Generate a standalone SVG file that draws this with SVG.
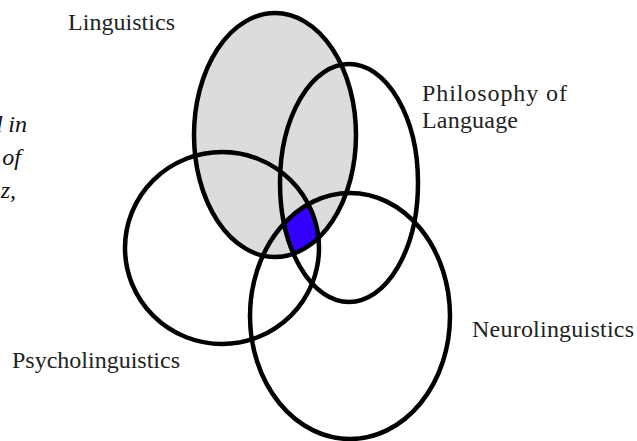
<svg xmlns="http://www.w3.org/2000/svg" width="637" height="441" viewBox="0 0 637 441">
<style>
.ring{fill:none;stroke:#000;stroke-width:4.5}
.lbl{font-family:"Liberation Serif","Times New Roman",serif;font-size:24px;fill:#222}
.cut{font-family:"Liberation Serif","Times New Roman",serif;font-style:italic;font-size:24px;fill:#111}
</style>
<defs>
<clipPath id="cL"><ellipse cx="275" cy="135" rx="81" ry="122"/></clipPath>
<clipPath id="cP"><ellipse cx="349" cy="183" rx="69" ry="119"/></clipPath>
<clipPath id="cS"><ellipse cx="222" cy="248" rx="97" ry="96"/></clipPath>
</defs>
<rect width="637" height="441" fill="#fff"/>
<g id="caption-fragment">
<text class="cut" x="27" y="132" text-anchor="end">d in</text>
<text class="cut" x="21" y="165" text-anchor="end">of</text>
<text class="cut" x="16" y="198" text-anchor="end">z,</text>
</g>
<ellipse cx="275" cy="135" rx="81" ry="122" fill="#dcdcdc"/>
<g id="overlap" clip-path="url(#cL)"><g clip-path="url(#cP)"><g clip-path="url(#cS)"><ellipse cx="350" cy="316" rx="100" ry="123" fill="#3300ff"/></g></g></g>
<g id="linguistics">
<ellipse class="ring" cx="275" cy="135" rx="81" ry="122"/>
<text class="lbl" x="68" y="30" textLength="107" lengthAdjust="spacing">Linguistics</text>
</g>
<g id="philosophy">
<ellipse class="ring" cx="349" cy="183" rx="69" ry="119"/>
<text class="lbl" x="422" y="101" textLength="145" lengthAdjust="spacing">Philosophy of</text>
<text class="lbl" x="422" y="128" textLength="96" lengthAdjust="spacing">Language</text>
</g>
<g id="psycholinguistics">
<ellipse class="ring" cx="222" cy="248" rx="97" ry="96"/>
<text class="lbl" x="12" y="368" textLength="168" lengthAdjust="spacing">Psycholinguistics</text>
</g>
<g id="neurolinguistics">
<ellipse class="ring" cx="350" cy="316" rx="100" ry="123"/>
<text class="lbl" x="472" y="337" textLength="162" lengthAdjust="spacing">Neurolinguistics</text>
</g>
<g id="connectors"/>
</svg>
